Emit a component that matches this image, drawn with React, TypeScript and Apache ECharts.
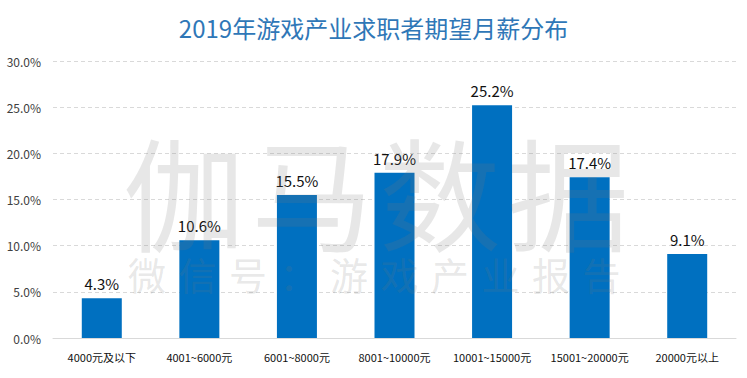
import React, { useEffect, useRef } from "react";
import * as echarts from "echarts";

const TITLE = "2019年游戏产业求职者期望月薪分布";
const categories = [
  "4000元及以下",
  "4001~6000元",
  "6001~8000元",
  "8001~10000元",
  "10001~15000元",
  "15001~20000元",
  "20000元以上",
];
const values = [4.3, 10.6, 15.5, 17.9, 25.2, 17.4, 9.1];
const yTicks = { min: 0, max: 30, interval: 5 };
const watermarkBig = ["伽", "马", "数", "据"];
const watermarkSmall = ["微", "信", "号", "：", "游", "戏", "产", "业", "报", "告"];

const FONT = "'Noto Sans CJK SC', 'Noto Sans', sans-serif";

export default function App() {
  const ref = useRef<HTMLDivElement>(null);
  useEffect(() => {
    document.body.style.margin = "0";
    if (!ref.current) return;
    const chart = echarts.init(ref.current, undefined, { renderer: "svg" });
    const wmColor = "rgba(120,120,120,0.18)";
    const graphics: any[] = [];
    watermarkBig.forEach((ch, i) => {
      graphics.push({
        type: "text",
        x: 184 + i * 128,
        y: 188,
        z: 100,
        silent: true,
        style: {
          text: ch,
          fontSize: 122,
          fontFamily: FONT,
          fill: wmColor,
          textAlign: "center",
          textVerticalAlign: "middle",
        },
      });
    });
    watermarkSmall.forEach((ch, i) => {
      graphics.push({
        type: "text",
        x: 147 + i * 50.5,
        y: 273,
        z: 100,
        silent: true,
        style: {
          text: ch,
          fontSize: 38,
          fontFamily: FONT,
          fill: wmColor,
          textAlign: "center",
          textVerticalAlign: "middle",
        },
      });
    });
    chart.setOption({
      animation: false,
      backgroundColor: "#ffffff",
      textStyle: { fontFamily: FONT },
      title: {
        text: TITLE,
        left: "center",
        top: 10,
        textStyle: {
          fontSize: 24,
          fontWeight: "normal",
          color: "#2f77b7",
          fontFamily: FONT,
        },
      },
      grid: { left: 53, right: 11, top: 61, bottom: 40 },
      xAxis: {
        type: "category",
        data: categories,
        axisLine: { lineStyle: { color: "#d9d9d9" } },
        axisTick: { show: false },
        axisLabel: { color: "#111", fontSize: 11, margin: 13, interval: 0 },
      },
      yAxis: {
        type: "value",
        min: yTicks.min,
        max: yTicks.max,
        interval: yTicks.interval,
        axisLine: { show: false },
        axisTick: { show: false },
        axisLabel: {
          color: "#404040",
          fontSize: 12,
          margin: 12,
          formatter: (v: number) => v.toFixed(1) + "%",
        },
        splitLine: { lineStyle: { color: "#d9d9d9", type: [4, 3] } },
      },
      graphic: graphics,
      series: [
        {
          type: "bar",
          data: values,
          barWidth: 40,
          itemStyle: { color: "#0070c0" },
          label: {
            show: true,
            position: "top",
            distance: 7,
            fontSize: 15,
            color: "#111",
            formatter: (p: any) => p.value.toFixed(1) + "%",
          },
        },
      ],
    });
    return () => chart.dispose();
  }, []);
  return <div ref={ref} style={{ width: 747, height: 378 }} />;
}
